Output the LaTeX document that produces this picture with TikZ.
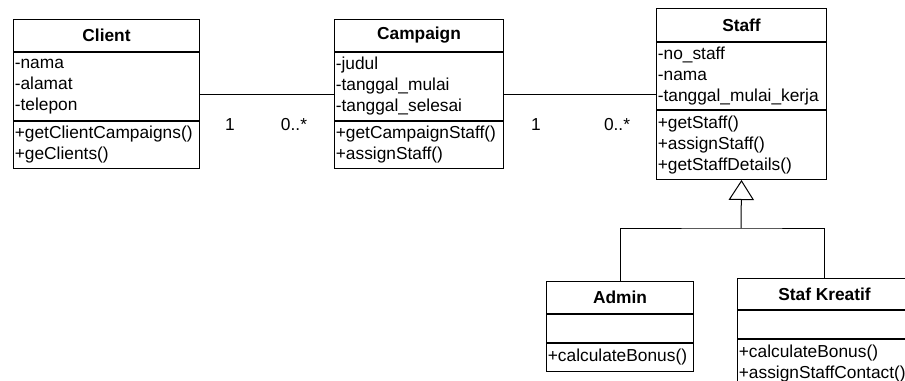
\documentclass[tikz,border=0pt]{standalone}
\usepackage{fontspec}
\setmainfont{Liberation Sans}
\usetikzlibrary{arrows.meta, positioning}

\begin{document}
\begin{tikzpicture}[
    x=0.75pt, y=-0.75pt,
    node distance=0pt,
    every node/.style={font=\fontsize{13}{15.75}\selectfont},
    classname/.style={rectangle, draw, line width=0.75pt, minimum width=#1, minimum height=24pt, inner sep=0pt, font=\fontsize{13}{15.75}\selectfont\bfseries},
    compart/.style={rectangle, draw, line width=0.75pt, text width=#1, align=left, inner xsep=1pt, inner ysep=0pt},
    mult/.style={inner sep=0pt},
    link/.style={line width=0.75pt}
]
\useasboundingbox (0,0) rectangle (905,381);
\clip (0,0) rectangle (905,381);

% Client class
\node[classname=139.5pt, anchor=north west] (clientname) at (13,19) {Client};
\node[compart=137.5pt, minimum height=51pt, below=of clientname] (clientattr) {-nama\\-alamat\\-telepon};
\node[compart=137.5pt, minimum height=35.25pt, below=of clientattr] (clientops) {+getClientCampaigns()\\+geClients()};

% Campaign class
\node[classname=126.75pt, anchor=north west] (campname) at (334,19) {Campaign};
\node[compart=124.75pt, minimum height=51pt, below=of campname] (campattr) {-judul\\-tanggal\_mulai\\-tanggal\_selesai};
\node[compart=124.75pt, minimum height=35.25pt, below=of campattr] (campops) {+getCampaignStaff()\\+assignStaff()};

% Staff class
\node[classname=127.5pt, minimum height=24.75pt, anchor=north west] (staffname) at (656,8) {Staff};
\node[compart=125.5pt, minimum height=50.25pt, below=of staffname] (staffattr) {-no\_staff\\-nama\\-tanggal\_mulai\_kerja};
\node[compart=125.5pt, minimum height=51.75pt, below=of staffattr] (staffops) {+getStaff()\\+assignStaff()\\+getStaffDetails()};

% Subclasses
\node[classname=110.25pt, anchor=north west] (adminname) at (546,281) {Admin};
\node[compart=108.25pt, minimum height=21pt, below=of adminname] (adminattr) {};
\node[compart=108.25pt, minimum height=21pt, below=of adminattr] (adminops) {+calculateBonus()};

\node[classname=130.5pt, minimum height=23.25pt, anchor=north west] (kreatifname) at (737,278) {Staf Kreatif};
\node[compart=128.5pt, minimum height=21pt, below=of kreatifname] (kreatifattr) {};
\node[compart=128.5pt, minimum height=36pt, below=of kreatifattr] (kreatifops) {+calculateBonus()\\+assignStaffContact()};

% Associations
\draw[link] ([yshift=-6pt]clientattr.east) -- ([yshift=-6pt]clientattr.east -| campattr.west);
\draw[link] ([yshift=-6pt]campattr.east) -- ([yshift=-6pt]campattr.east -| staffattr.west);

\node[mult] (mult1) at (230,125) {1};
\node[mult] (mult2) at (294,125) {0..*};
\node[mult] (mult3) at (536,125) {1};
\node[mult] (mult4) at (617,125) {0..*};

% Generalization
\coordinate (split) at (741,228);
\draw[link] (adminname.north) |- (split) -| (kreatifname.north);
\draw[link, -{Triangle[open, length=15pt, width=19pt]}] (split) -- (staffops.south);

\end{tikzpicture}
\end{document}
